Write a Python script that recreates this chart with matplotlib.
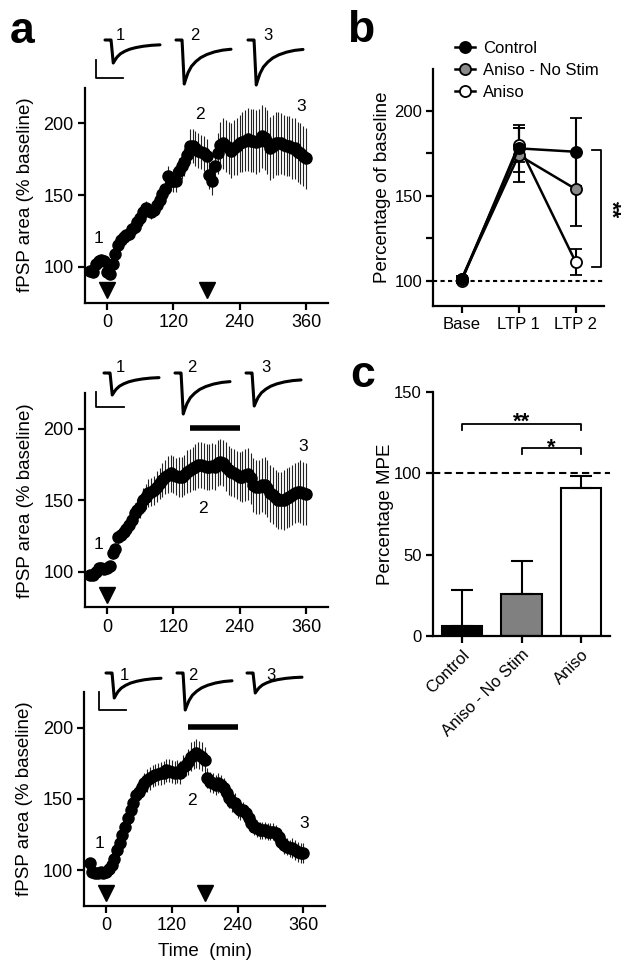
import numpy as np
import matplotlib
matplotlib.use('Agg')
import matplotlib.pyplot as plt
from matplotlib.lines import Line2D

plt.rcParams['font.family'] = ['Liberation Sans', 'DejaVu Sans']

W, H = 629, 974
fig = plt.figure(figsize=(W / 100, H / 100), dpi=100)

# ---------------- data ----------------
time_min = np.arange(-30, 361, 5)

a1_vals = [97, 96.5, 102, 104, 104.5, 104, 96, 95, 102, 109,
           115, 118.5, 121, 122, 123, 126, 128, 131, 134, 138,
           141, 139.5, 138, 139.5, 143, 146.5, 151, 154.5, 163, 160,
           160, 160, 167, 170, 173, 178, 184, 184, 182.5, 181,
           180, 179, 177, 164, 160, 170, 179, 185, 186, 184,
           183, 181, 183, 184, 186, 187, 188, 189, 188, 188,
           187, 188, 191, 189.5, 187, 182.5, 184, 186, 186, 186,
           185, 184, 184, 182.5, 182.5, 180, 179, 177, 175.5]
a1_err = [2, 2, 2, 2, 2, 2, 2, 2, 2, 2,
          3, 3, 3, 3, 3, 3, 3, 4, 4, 4,
          5, 5, 5, 5, 5, 6, 6, 6, 7, 7,
          8, 8, 9, 9, 10, 10, 12, 12, 12, 12,
          12, 12, 12, 10, 10, 12, 14, 16, 18, 18,
          18, 19, 19, 20, 20, 21, 21, 22, 22, 22,
          22, 22, 22, 22, 22, 22, 22, 22, 22, 21,
          21, 21, 21, 21, 21, 21, 21, 21, 21]

a2_vals = [97.7, 97.7, 100, 102.3, 102.3, 101.6, 102.3, 104, 113, 116,
           124.5, 125.7, 128, 130, 132.7, 136, 141, 143, 145.6, 150,
           152.6, 155, 156, 157, 159.6, 162, 164, 166.6, 167.8, 169,
           167.8, 167, 166.6, 166.6, 167.8, 170, 171, 172.4, 173.6, 174.8,
           174.8, 174, 173.6, 173.6, 174, 173.6, 176, 177, 176, 173.6,
           171, 170, 169, 167.8, 166.6, 166.6, 167.8, 168.5, 165.4, 160.7,
           159.6, 159.6, 160.7, 160.7, 158.4, 155, 153.7, 151.4, 150.2, 150.2,
           150.2, 151.4, 152.6, 153.7, 155, 156, 156, 155, 154.4]
a2_err = [2, 2, 2, 2, 2, 2, 2, 3, 4, 4,
          5, 5, 6, 6, 6, 7, 7, 8, 8, 9,
          9, 10, 10, 10, 11, 11, 12, 12, 13, 13,
          13, 13, 14, 14, 14, 15, 15, 15, 16, 16,
          16, 16, 16, 16, 16, 16, 16, 16, 16, 17,
          17, 17, 17, 17, 17, 18, 18, 18, 18, 19,
          19, 19, 19, 20, 20, 20, 20, 20, 20, 20,
          21, 21, 21, 21, 21, 21, 22, 22, 22]

a3_vals = [104.7, 98.8, 97.7, 98, 98.8, 98, 98.8, 101, 103.5, 108,
           114, 118.7, 124.6, 130.4, 136.3, 142, 146.8, 152.7, 155, 158.5,
           161, 163, 164.4, 166, 166.7, 167.4, 168, 168.4, 170, 169.8,
           169, 168.4, 169, 168.4, 172.6, 173.8, 176, 179.6, 180.8, 182,
           180.8, 179.6, 177.3, 164.4, 162, 161, 159.7, 161, 159.7, 157.4,
           153.9, 150.4, 148, 146.8, 143.3, 142, 142, 139.8, 136.3, 132.8,
           130.4, 129.3, 128, 128, 128, 127, 127, 127, 125.8, 123.4,
           120, 117.6, 116.4, 115.2, 115.2, 114, 112.9, 111.7, 111.7]
a3_err = [2, 2, 2, 2, 2, 2, 2, 2, 3, 3,
          3, 4, 4, 4, 5, 5, 5, 6, 6, 7,
          7, 8, 8, 8, 8, 8, 8, 8, 8, 8,
          8, 8, 8, 8, 8, 8, 9, 10, 10, 10,
          10, 10, 9, 7, 7, 7, 7, 7, 7, 7,
          7, 7, 7, 7, 7, 7, 6, 6, 6, 6,
          6, 6, 6, 6, 6, 6, 6, 6, 6, 6,
          6, 6, 6, 6, 7, 7, 7, 7, 7]

stim_a1 = [0, 180]
stim_a2 = [0]
stim_a3 = [0, 180]
drug_bar = [150, 240]
a_xticks = [0, 120, 240, 360]
a_yticks = [100, 150, 200]

b_conditions = ['Base', 'LTP 1', 'LTP 2']
b_groups = ['Control', 'Aniso - No Stim', 'Aniso']
b_control = [101, 178, 176]
b_control_err = [1.5, 14, 20]
b_nostim = [101, 174, 154]
b_nostim_err = [1.5, 16, 22]
b_aniso = [100, 180, 111]
b_aniso_err = [1.5, 10, 7.5]

c_groups = ['Control', 'Aniso - No Stim', 'Aniso']
c_mpe = [6, 26, 91]
c_mpe_err = [22, 20, 7.5]

# normalised fEPSP trace template
trace_tx = [0, 0.09, 0.11, 0.13, 0.15, 0.18, 0.22, 0.28, 0.36, 0.45, 0.56, 0.70, 0.85, 1.0]
trace_ty = [0, 0, 0.0, 0.5, 1.0, 0.88, 0.74, 0.60, 0.49, 0.40, 0.33, 0.27, 0.23, 0.21]

# ---------------- helpers ----------------
def px_axes(x0, x1, y0, y1):
    return fig.add_axes([x0 / W, 1 - y1 / H, (x1 - x0) / W, (y1 - y0) / H])


def style(ax, fs):
    for s in ['top', 'right']:
        ax.spines[s].set_visible(False)
    for s in ['left', 'bottom']:
        ax.spines[s].set_linewidth(1.6)
    ax.tick_params(width=1.6, length=5, labelsize=fs, direction='out', pad=3)
    ax.tick_params(which='minor', width=1.6, length=5)


# ---------------- panel a ----------------
panels_a = [
    dict(box=(84.9, 328.1, 87.5, 302.5), vals=a1_vals, err=a1_err, stims=stim_a1, bar=False,
         labels=[(-16, 120, '1'), (168, 206, '2'), (352, 212, '3')], xlabel=False),
    dict(box=(84.9, 328.1, 393.3, 607.4), vals=a2_vals, err=a2_err, stims=stim_a2, bar=True,
         labels=[(-14.5, 119.4, '1'), (172.7, 144.4, '2'), (355, 188, '3')], xlabel=False),
    dict(box=(84.1, 325.3, 692.1, 905.6), vals=a3_vals, err=a3_err, stims=stim_a3, bar=True,
         labels=[(-12, 118.7, '1'), (156, 149, '2'), (361, 132.8, '3')], xlabel=True),
]

for p in panels_a:
    ax = px_axes(*p['box'])
    style(ax, 13)
    ax.errorbar(time_min, p['vals'], yerr=p['err'], fmt='o', color='k', ms=8,
                ecolor='#222222', elinewidth=0.8, capsize=0, zorder=3, clip_on=False)
    ax.set_xlim(-40, 400)
    ax.set_ylim(75, 225)
    ax.set_xticks(a_xticks)
    ax.set_yticks(a_yticks)
    ax.set_ylabel('fPSP area (% baseline)', fontsize=13.5)
    ax.yaxis.set_label_coords(-0.21, 0.5)
    ax.plot(p['stims'], [84] * len(p['stims']), 'kv', ms=11, clip_on=False, zorder=4)
    if p['bar']:
        ax.plot(drug_bar, [200.5, 200.5], color='k', lw=4, solid_capstyle='butt')
    for (tx, ty, s) in p['labels']:
        ax.text(tx, ty, s, fontsize=12.5, ha='center', va='center')
    if p['xlabel']:
        ax.set_xlabel('Time  (min)', fontsize=13.5, va='top')
        ax.xaxis.set_label_coords(0.5, -0.175)

# ---------------- panel b ----------------
axb = px_axes(433.2, 604.2, 68.6, 306.2)
style(axb, 12)
xb = np.arange(len(b_conditions))
axb.axhline(100, color='k', lw=1.5, ls=(0, (2, 1.6)), zorder=1)
series_b = [(b_aniso, b_aniso_err, 'white'), (b_nostim, b_nostim_err, '#8a8a8a'),
            (b_control, b_control_err, 'black')]
for vals, err, fc in series_b:
    axb.errorbar(xb, vals, yerr=err, fmt='-o', color='k', lw=1.8, ms=8, mfc=fc, mec='k',
                 mew=1.3, ecolor='k', elinewidth=1.5, capsize=4.5, capthick=1.5, zorder=3)
axb.set_xlim(-0.5, 2.5)
axb.set_ylim(85, 225)
axb.set_yticks([100, 150, 200])
axb.set_yticks([125, 175], minor=True)
axb.set_xticks(xb)
axb.set_xticklabels(b_conditions)
axb.set_ylabel('Percentage of baseline', fontsize=13.5)
axb.yaxis.set_label_coords(-0.247, 0.5)
axb.plot([2.29, 2.44, 2.44, 2.29], [177, 177, 108, 108], color='k', lw=1.3, clip_on=False)
axb.text(2.61, 142, '**', rotation=270, fontsize=16, fontweight='bold', ha='center', va='center')

handles = [Line2D([0], [0], color='k', lw=1.8, marker='o', ms=8, mfc=fc, mec='k', mew=1.3)
           for fc in ['black', '#8a8a8a', 'white']]
axb.legend(handles, b_groups, loc='upper left', bbox_to_anchor=(455 / W, 1 - 41 / H),
           bbox_transform=fig.transFigure, frameon=False, fontsize=12, borderpad=0,
           borderaxespad=0, handlelength=1.2, handletextpad=0.5, labelspacing=0.42)

# ---------------- panel c ----------------
axc = px_axes(432.7, 610.3, 391.7, 636)
style(axc, 12)
xc = np.arange(len(c_groups))
axc.bar(xc, c_mpe, width=0.68, color=['black', '#808080', 'white'], edgecolor='k', lw=1.5, zorder=2)
axc.errorbar(xc, c_mpe, yerr=[[0] * len(c_mpe), c_mpe_err], fmt='none', ecolor='k',
             elinewidth=1.5, capsize=8, capthick=1.5, zorder=3)
axc.axhline(100, color='k', lw=1.5, ls=(0, (3.5, 2)), zorder=1)
axc.set_xlim(-0.5, 2.5)
axc.set_ylim(0, 150)
axc.set_yticks([0, 50, 100, 150])
axc.set_xticks(xc)
axc.set_xticklabels(c_groups, rotation=45, ha='right', rotation_mode='anchor')
axc.set_ylabel('Percentage MPE', fontsize=13.5)
axc.yaxis.set_label_coords(-0.218, 0.5)
axc.plot([0, 0, 2, 2], [126.5, 130, 130, 126.5], color='k', lw=1.3)
axc.plot([1, 1, 2, 2], [112, 115.6, 115.6, 112], color='k', lw=1.3)
axc.text(1, 128, '**', fontsize=16, fontweight='bold', ha='center', va='baseline')
axc.text(1.5, 111.8, '*', fontsize=16, fontweight='bold', ha='center', va='baseline')

# ---------------- overlay: traces, scale bars, panel letters ----------------
axo = fig.add_axes([0, 0, 1, 1])
axo.set_xlim(0, W)
axo.set_ylim(H, 0)
axo.axis('off')

trace_sets = [
    dict(tr=[(105, 40, 23), (176, 40, 44), (248, 40, 45)], sb=(96, 60, 78, 123),
         nums=[(120, 35), (195, 35), (268, 35)]),
    dict(tr=[(104, 373, 22), (175, 373, 41), (246, 373, 33)], sb=(96, 392, 407, 124),
         nums=[(120, 367), (192, 367), (266, 367)]),
    dict(tr=[(106, 673, 25), (177, 673, 37), (247, 673, 20)], sb=(99, 692, 710, 126),
         nums=[(124, 675), (193, 675), (271, 675)]),
]
tx = np.array(trace_tx)
ty = np.array(trace_ty)
for ts in trace_sets:
    for (x0, y0, d) in ts['tr']:
        axo.plot(x0 + 55 * tx, y0 + d * ty, color='k', lw=2.2, solid_joinstyle='round',
                 solid_capstyle='round')
    sx, sy0, sy1, sx1 = ts['sb']
    axo.plot([sx, sx, sx1], [sy0, sy1, sy1], color='k', lw=1.3)
    for i, (nx, ny) in enumerate(ts['nums']):
        axo.text(nx, ny, str(i + 1), fontsize=12, ha='center', va='center')

fig.text(10 / W, 1 - 42.7 / H, 'a', fontsize=32, fontweight='bold', va='baseline')
fig.text(347 / W, 1 - 42 / H, 'b', fontsize=32, fontweight='bold', va='baseline')
fig.text(350 / W, 1 - 387 / H, 'c', fontsize=32, fontweight='bold', va='baseline')

fig.savefig('out.png', dpi=100)
